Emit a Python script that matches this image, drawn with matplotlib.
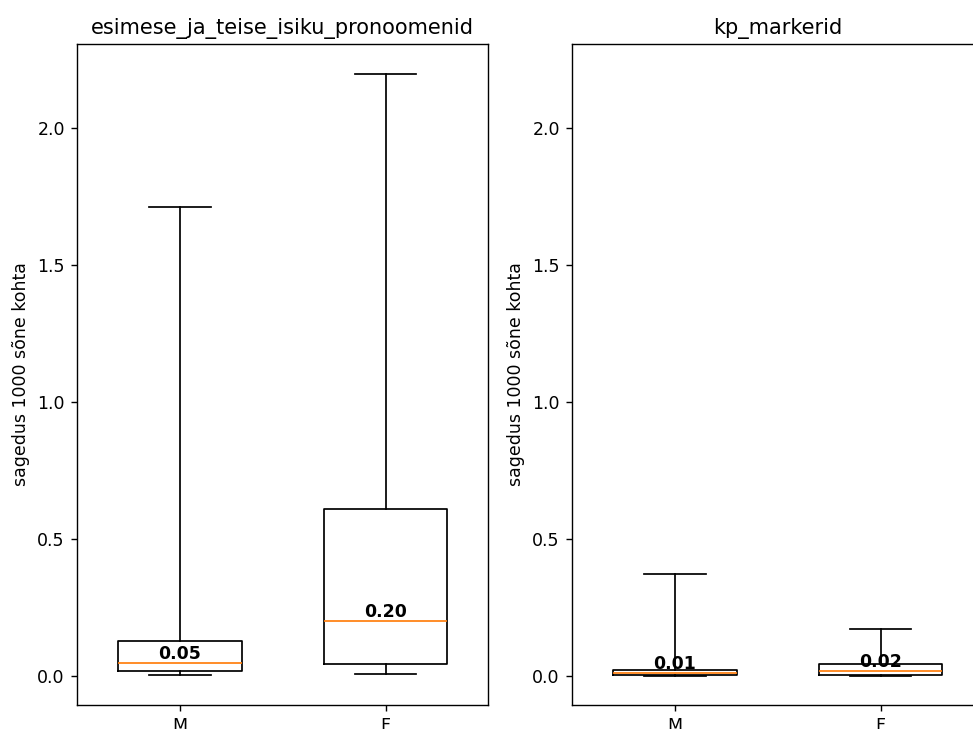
#!/usr/bin/env python3

import matplotlib
matplotlib.use("Agg")
import matplotlib.pyplot as plt

# Frequency per 1000 tokens, summary stats per gender group
groups = ["M", "F"]
features = ["esimese_ja_teise_isiku_pronoomenid", "kp_markerid"]

pron_whislo = [0.006, 0.007]
pron_q1 = [0.020, 0.044]
pron_med = [0.05, 0.20]
pron_q3 = [0.130, 0.609]
pron_whishi = [1.711, 2.197]

kp_whislo = [0.001, 0.002]
kp_q1 = [0.004, 0.004]
kp_med = [0.01, 0.02]
kp_q3 = [0.021, 0.044]
kp_whishi = [0.373, 0.172]


def build_stats(whislo, q1, med, q3, whishi):
    stats = []
    for i, name in enumerate(groups):
        stats.append({
            "label": name,
            "whislo": whislo[i],
            "q1": q1[i],
            "med": med[i],
            "q3": q3[i],
            "whishi": whishi[i],
            "fliers": [],
        })
    return stats


def main() -> None:
    dpi = 125
    fig = plt.figure(figsize=(973 / dpi, 729 / dpi), dpi=dpi)
    ax1 = fig.add_axes([0.0791, 0.0329, 0.4229, 0.9067])
    ax2 = fig.add_axes([0.5879, 0.0329, 0.4229, 0.9067])

    data = [
        build_stats(pron_whislo, pron_q1, pron_med, pron_q3, pron_whishi),
        build_stats(kp_whislo, kp_q1, kp_med, kp_q3, kp_whishi),
    ]

    for ax, title, stats in zip([ax1, ax2], features, data):
        ax.bxp(stats, positions=[1, 2], widths=0.6, showfliers=False)
        for pos, s in zip([1, 2], stats):
            ax.text(pos, s["med"], f"{s['med']:.2f}", ha="center", va="bottom",
                    fontweight="bold", fontsize=10)
        ax.set_title(title)
        ax.set_ylabel("sagedus 1000 sõne kohta")
        ax.set_xlim(0.5, 2.5)
        ax.set_ylim(-0.105, 2.305)
        ax.set_yticks([0.0, 0.5, 1.0, 1.5, 2.0])

    fig.savefig("out.png", dpi=dpi)


if __name__ == "__main__":
    main()
